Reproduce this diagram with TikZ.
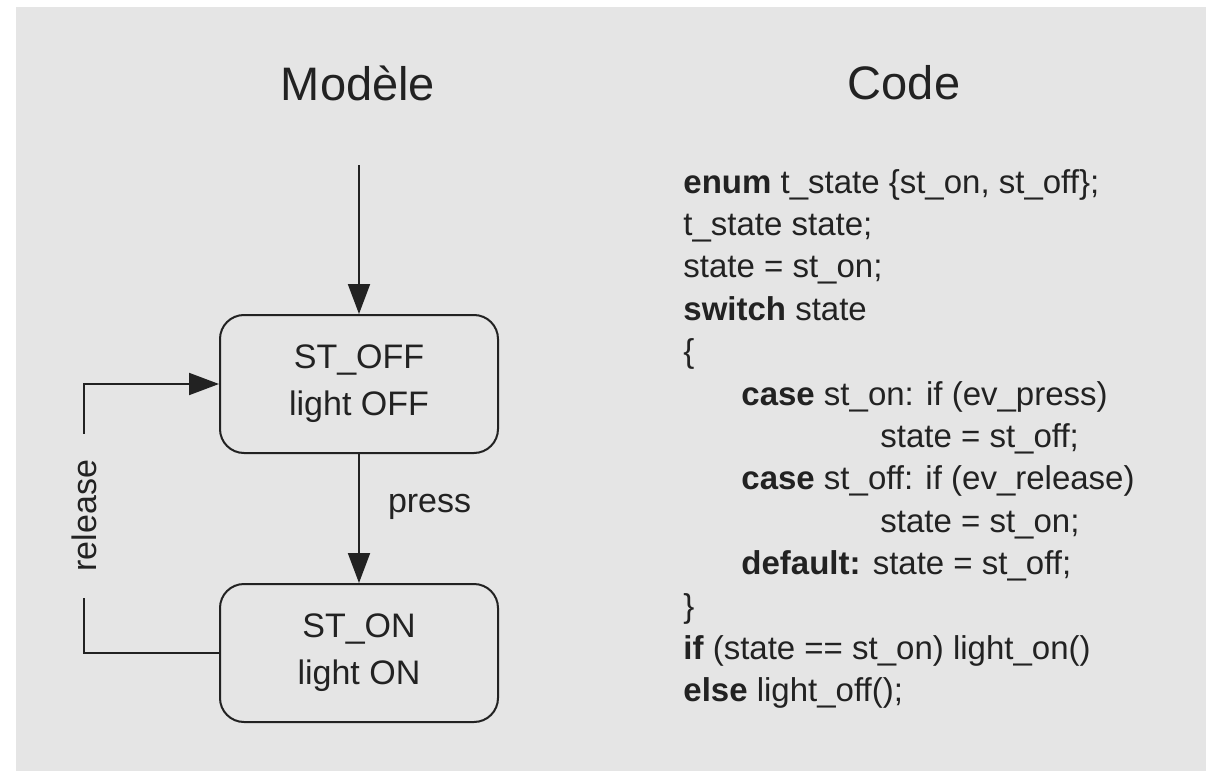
\documentclass[tikz,border=0pt]{standalone}
\usepackage{fontspec}
\setmainfont{Liberation Sans}
\usetikzlibrary{arrows.meta,positioning}
\definecolor{bg}{HTML}{E5E5E5}
\definecolor{ink}{HTML}{222222}

\begin{document}
\begin{tikzpicture}[x=0.5pt, y=-0.5pt, node distance=134.5pt,
    state/.style={draw=ink, line width=1pt, rounded corners=12pt, minimum width=139pt, minimum height=69pt, align=center, font=\fontsize{17}{23.5}\selectfont, text=ink},
    code/.style={anchor=base west, inner sep=0pt, font=\fontsize{16.5}{20}\selectfont, text=ink},
    title/.style={font=\fontsize{23.5}{28}\selectfont, text=ink},
    trans/.style={draw=ink, line width=1pt, -{Triangle[length=15pt,width=11pt]}}]
    \useasboundingbox (0,0) rectangle (1206,771);
    \fill[bg] (16,7) rectangle (1206,771);

    % Titles
    \node[title] (tmodel) at (358,83) {Modèle};
    \node[title] (tcode) at (904,83) {Code};

    % States
    \node[state] (off) at (359,384) {ST\_OFF\\light OFF};
    \node[state] (on) [below of=off] {ST\_ON\\light ON};
    \coordinate (init) at (359,165);

    % Transitions
    \draw[trans] (init) -- (off);
    \draw[trans] (off) -- node[right=14pt, pos=0.41, inner sep=0pt, font=\fontsize{17}{20}\selectfont, text=ink] (lpress) {press} (on);
    \draw[trans] (on.west) -- ++(-135,0) |- node[pos=0.255, rotate=90, fill=bg, inner xsep=13pt, inner ysep=2pt, font=\fontsize{17}{20}\selectfont, text=ink] (lrelease) {release} (off.west);

    % Code
    \node[code] (c1) at (683,193) {\textbf{enum} t\_state \{st\_on, st\_off\};};
    \node[code] (c2) at (683,235.4) {t\_state state;};
    \node[code] (c3) at (683,277.8) {state = st\_on;};
    \node[code] (c4) at (683,320.2) {\textbf{switch} state};
    \node[code] (c5) at (683,362.6) {\{};
    \node[code] (c6) at (741,405) {\textbf{case} st\_on: if (ev\_press)};
    \node[code] (c7) at (880,447.4) {state = st\_off;};
    \node[code] (c8) at (741,489.8) {\textbf{case} st\_off: if (ev\_release)};
    \node[code] (c9) at (880,532.2) {state = st\_on;};
    \node[code] (c10) at (741,574.6) {\textbf{default:} state = st\_off;};
    \node[code] (c11) at (683,617) {\}};
    \node[code] (c12) at (683,659.4) {\textbf{if} (state == st\_on) light\_on()};
    \node[code] (c13) at (683,701.8) {\textbf{else} light\_off();};
\end{tikzpicture}
\end{document}
